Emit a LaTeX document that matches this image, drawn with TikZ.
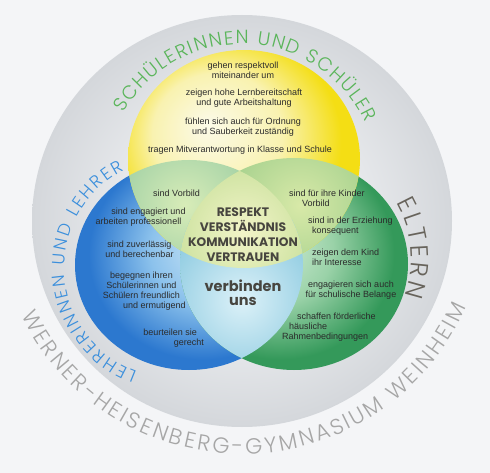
\documentclass[tikz,border=0pt]{standalone}
\usepackage{fontspec}
\setmainfont{Liberation Sans}
\IfFontExistsTF{Poppins Light}{\newfontfamily\geo{Poppins Light}}{\newfontfamily\geo{Poppins}}
\newfontfamily\geob{Poppins}
\usetikzlibrary{decorations.text,calc}

\definecolor{bg}{HTML}{F4F5F7}
\definecolor{grA}{HTML}{EEF0F2}
\definecolor{grB}{HTML}{E6E8EB}
\definecolor{grC}{HTML}{D4D7DB}
\definecolor{yeA}{HTML}{FBFAE8}
\definecolor{yeB}{HTML}{F9F2B0}
\definecolor{yeC}{HTML}{F4DE14}
\definecolor{blA}{HTML}{D2E9F7}
\definecolor{blB}{HTML}{8CC2EC}
\definecolor{blC}{HTML}{2C78CF}
\definecolor{gnA}{HTML}{D6EEDA}
\definecolor{gnB}{HTML}{9AD2A8}
\definecolor{gnC}{HTML}{34995A}
\definecolor{ybA}{HTML}{D8ECB8}
\definecolor{ybB}{HTML}{A4D2A6}
\definecolor{ygA}{HTML}{D8E9A8}
\definecolor{ygB}{HTML}{AAD390}
\definecolor{bgA}{HTML}{DCF1F8}
\definecolor{bgB}{HTML}{92CDE2}
\definecolor{tA}{HTML}{F2F4C8}
\definecolor{tB}{HTML}{CFE3A2}
\definecolor{txt}{HTML}{2B2B2B}
\definecolor{coreTxt}{HTML}{47453F}
\definecolor{cSch}{HTML}{5AB55A}
\definecolor{cLeh}{HTML}{3B8FDC}
\definecolor{cElt}{HTML}{67635B}
\definecolor{cWhg}{HTML}{A6A6A6}

\pgfdeclareradialshading{greyS}{\pgfpoint{0bp}{0bp}}{color(0bp)=(grA); color(15bp)=(grB); color(25bp)=(grC); color(50bp)=(grC)}
\pgfdeclareradialshading{yelS}{\pgfpoint{-8bp}{8bp}}{color(0bp)=(yeA); color(14bp)=(yeB); color(25bp)=(yeC); color(50bp)=(yeC)}
\pgfdeclareradialshading{bluS}{\pgfpoint{6bp}{5bp}}{color(0bp)=(blA); color(13bp)=(blB); color(25bp)=(blC); color(50bp)=(blC)}
\pgfdeclareradialshading{grnS}{\pgfpoint{-6bp}{5bp}}{color(0bp)=(gnA); color(13bp)=(gnB); color(25bp)=(gnC); color(50bp)=(gnC)}

\tikzset{
  yelP/.style={insert path={(Y) ellipse[x radius=116, y radius=109]}},
  bluP/.style={insert path={(B) ellipse[x radius=114, y radius=105]}},
  grnP/.style={insert path={(N) ellipse[x radius=114, y radius=106]}},
  body/.style={font=\fontsize{9}{10}\selectfont, text=txt, inner sep=0pt, align=center},
  core/.style={font=\geob\bfseries\fontsize{12.3}{15}\selectfont, text=coreTxt, inner sep=0pt, align=center},
}

\begin{document}
\begin{tikzpicture}[x=1pt,y=-1pt]
\useasboundingbox (0,0) rectangle (490,473);
\fill[bg] (0,0) rectangle (490,473);
\coordinate (G) at (242,221);
\coordinate (Y) at (244,159);
\coordinate (B) at (189,265);
\coordinate (N) at (294,264);

\shade[shading=greyS] (G) ellipse[x radius=210, y radius=206];
\shade[shading=bluS][bluP];
\shade[shading=grnS][grnP];
\shade[shading=yelS][yelP];

\begin{scope}
  \clip[yelP]; \clip[bluP];
  \shade[inner color=ybA, outer color=ybB] (115,135) rectangle (255,275);
\end{scope}
\begin{scope}
  \clip[yelP]; \clip[grnP];
  \shade[inner color=ygA, outer color=ygB] (230,135) rectangle (370,275);
\end{scope}
\begin{scope}
  \clip[bluP]; \clip[grnP];
  \shade[inner color=bgA, outer color=bgB] (162,220) rectangle (322,380);
\end{scope}
\begin{scope}
  \clip[yelP]; \clip[bluP]; \clip[grnP];
  \shade[inner color=tA, outer color=tB] (178,167) rectangle (308,297);
\end{scope}

% curved labels
\path[decorate, decoration={text along path, text align=fit to path, text color=cSch,
  text={|\geo\fontsize{19}{19}\selectfont|SCHÜLERINNEN UND SCHÜLER}}]
  ($(242,180)+(-150.3:136)$) arc[start angle=-150.3, end angle=-25, radius=136];
\path[decorate, decoration={text along path, text align=fit to path, text color=cLeh,
  text={|\geo\fontsize{17.5}{17.5}\selectfont|LEHRERINNEN UND LEHRER}}]
  ($(175,268)+(-250:110.5)$) arc[start angle=-250, end angle=-117.5, radius=110.5];
\path[decorate, decoration={text along path, text align=fit to path, text color=cElt,
  text={|\geo\fontsize{25}{25}\selectfont|ELTERN}}]
  ($(300,258)+(-30:111)$) arc[start angle=-30, end angle=20, radius=111];
\path[decorate, decoration={text along path, text align=fit to path, text color=cWhg,
  text={|\geo\fontsize{22}{22}\selectfont|WERNER-HEISENBERG-GYMNASIUM WEINHEIM}}]
  ($(242,209)+(154.3:245)$) arc[start angle=154.3, end angle=23.5, radius=245];

% yellow texts
\node[body] (y1) at (243,70) {gehen respektvoll\\miteinander um};
\node[body] (y2) at (244,98) {zeigen hohe Lernbereitschaft\\und gute Arbeitshaltung};
\node[body] (y3) at (243,127) {fühlen sich auch für Ordnung\\und Sauberkeit zuständig};
\node[body] (y4) at (240,150) {tragen Mitverantwortung in Klasse und Schule};

% blue texts
\node[body] (b1) at (176.5,193) {sind Vorbild};
\node[body] (b2) at (138.5,217) {\hspace*{20pt}sind engagiert und\\arbeiten professionell};
\node[body] (b3) at (139.5,249) {sind zuverlässig\\und berechenbar};
\node[body] (b4) at (141.5,291) {begegnen ihren\\Schülerinnen und\\Schülern freundlich\\\hspace*{26pt}und ermutigend};
\node[body, align=right, anchor=east] (b5) at (204,338) {beurteilen sie\hspace*{7pt}\\gerecht};

% green texts
\node[body, align=left, anchor=west] (g1) at (289,198) {sind für ihre Kinder\\\hspace*{13pt}Vorbild};
\node[body, align=left, anchor=west] (g2) at (308,226) {sind in der Erziehung\\\hspace*{4pt}konsequent};
\node[body, align=left, anchor=west] (g3) at (312,257) {zeigen dem Kind\\ihr Interesse};
\node[body] (g4) at (351,290) {engagieren sich auch\\für schulische Belange};
\node[body, align=left, anchor=west] (g5) at (282,327.5) {\hspace*{15pt}schaffen förderliche\\\hspace*{7pt}häusliche\\Rahmenbedingungen};

% centre
\node[core] (c1) at (243,234.5) {RESPEKT\\VERSTÄNDNIS\\KOMMUNIKATION\\VERTRAUEN};
\node[core, font=\geob\bfseries\fontsize{14.5}{14}\selectfont] (c2) at (243,293) {verbinden\\uns};
\end{tikzpicture}
\end{document}
